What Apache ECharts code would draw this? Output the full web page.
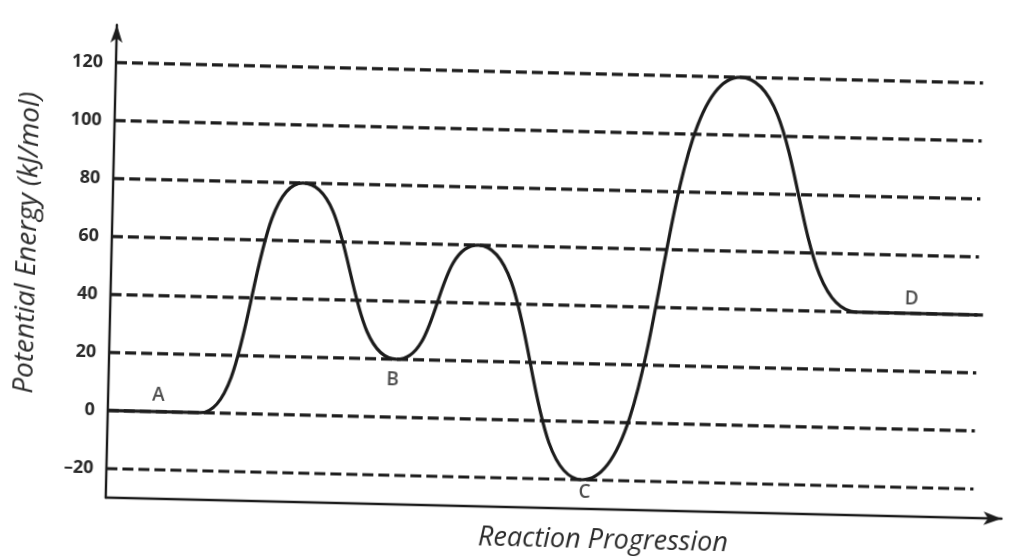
<!DOCTYPE html>
<html>
<head>
<meta charset="utf-8">
<script src="https://cdn.jsdelivr.net/npm/echarts@6/dist/echarts.min.js"></script>
<style>
  html, body { margin: 0; padding: 0; background: #ffffff; overflow: hidden; }
  #chart { width: 1017px; height: 557px; transform: rotate(1.35deg); transform-origin: 50% 50%; }
</style>
</head>
<body>
<div id="chart"></div>
<script>
// Reaction progression (x, arbitrary 0-100) and potential energy (kJ/mol):
// plateau A, peak, B, peak, C, peak, plateau D
const curveX = [0, 10.3, 21.2, 32.1, 40.9, 53.1, 69.7, 83.3, 97.4];
const curveY = [0, 0, 80, 20, 60, -20, 120, 40, 40];

// Dashed reference levels and their tick labels
const yTicks = [-20, 0, 20, 40, 60, 80, 100, 120];
const yTickLabels = ['\u201320', '0', '20', '40', '60', '80', '100', '120'];
const gridLineEnd = 96.8;

// Point labels
const pointNames = ['A', 'B', 'C', 'D'];
const pointX = [5.6, 31.7, 53.4, 89.4];
const pointY = [5.7, 13, -24.2, 45];

const FONT = "'Open Sans', 'Noto Sans', sans-serif";
const INK = '#1c1c1c';

const chart = echarts.init(document.getElementById('chart'), null, { renderer: 'canvas' });

const dashedSeries = yTicks.map(v => ({
  type: 'line',
  data: [[0, v], [gridLineEnd, v]],
  showSymbol: false,
  silent: true,
  z: 1,
  lineStyle: { color: INK, width: 3.2, type: [11, 5] }
}));

const option = {
  backgroundColor: '#ffffff',
  animation: false,
  grid: { left: 111, right: 10, top: 34.1, bottom: 47.9, containLabel: false },
  xAxis: {
    type: 'value', min: 0, max: 100,
    axisLine: { show: true, onZero: false, symbol: ['none', 'arrow'], symbolSize: [10, 18], lineStyle: { color: INK, width: 2.4 } },
    axisTick: { show: false }, axisLabel: { show: false }, splitLine: { show: false },
    name: 'Reaction Progression', nameLocation: 'middle', nameGap: 18,
    nameTextStyle: { fontFamily: FONT, fontStyle: 'italic', fontSize: 27, color: '#2b2b2b', padding: [0, 0, 0, 100] }
  },
  yAxis: {
    type: 'value', min: -30, max: 133, interval: 10,
    axisLine: { show: true, onZero: false, symbol: ['none', 'arrow'], symbolSize: [9, 18], lineStyle: { color: INK, width: 2.4 } },
    axisTick: { show: false }, splitLine: { show: false },
    axisLabel: {
      margin: 13, fontFamily: FONT, fontSize: 18, fontWeight: 700, color: '#2a2a2a',
      showMinLabel: true, showMaxLabel: true,
      formatter: v => { const i = yTicks.indexOf(Math.round(v * 1000) / 1000); return i >= 0 ? yTickLabels[i] : ''; }
    },
    name: 'Potential Energy (kJ/mol)', nameLocation: 'middle', nameGap: 70,
    nameTextStyle: { fontFamily: FONT, fontStyle: 'italic', fontSize: 28, color: '#2b2b2b', padding: [0, 0, 0, 33] }
  },
  series: [
    ...dashedSeries,
    {
      type: 'line',
      data: curveX.map((x, i) => [x, curveY[i]]),
      smooth: 0.55,
      smoothMonotone: 'x',
      showSymbol: false,
      silent: true,
      z: 3,
      lineStyle: { color: INK, width: 3.2 }
    },
    {
      type: 'scatter',
      data: pointNames.map((n, i) => ({ name: n, value: [pointX[i], pointY[i]] })),
      symbolSize: 0,
      silent: true,
      z: 4,
      label: { show: true, position: 'inside', formatter: p => p.name, fontFamily: FONT, fontSize: 19, fontWeight: 600, color: '#222222' }
    }
  ]
};
chart.setOption(option);
</script>
</body>
</html>
